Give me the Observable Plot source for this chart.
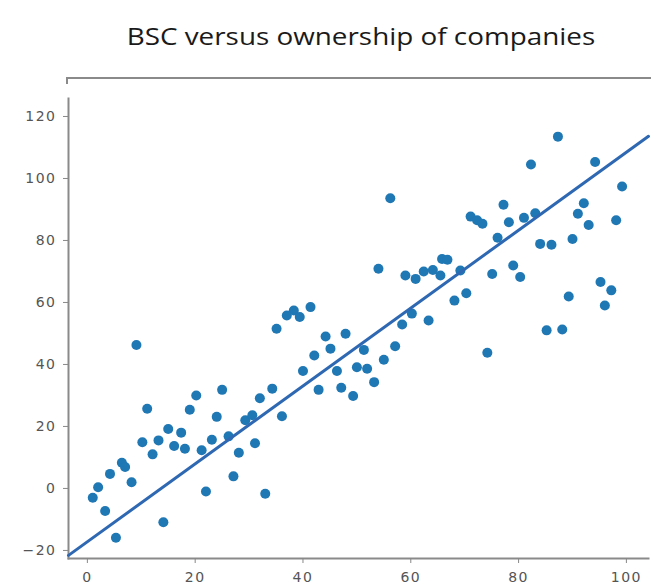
<!DOCTYPE html>
<html>
<head>
<meta charset="utf-8">
<script src="https://cdn.jsdelivr.net/npm/d3@7"></script>
<script src="https://cdn.jsdelivr.net/npm/@observablehq/plot@0.6"></script>
<style>
  html, body { margin: 0; padding: 0; background: #fff; }
  #wrap { position: relative; width: 651px; height: 586px; overflow: hidden; background: #fff; }
  #title { position: absolute; left: 0; top: 18px; width: 651px; height: 40px;
    font-family: "Open Sans", sans-serif; font-size: 24px; color: #1a1a1a;
    text-align: center; line-height: 36px; }
  #title span { display: inline-block; transform: scaleX(1.16); margin-left: 70px; }
  #topframe { position: absolute; left: 66px; top: 77px; width: 590px; height: 7px; z-index: 5;
    border-top: 2px solid #8a8a8a; border-left: 2px solid #8a8a8a; box-sizing: border-box; }
  #chart { position: absolute; left: 0; top: 60px; }
  #chart svg text { letter-spacing: 1.5px; }
</style>
</head>
<body>
<div id="wrap">
  <div id="title"><span>BSC versus ownership of companies</span></div>
  <div id="chart"></div>
  <div id="topframe"></div>
</div>
<script>
const ownership = [
  9.1, 11.1, 20.2, 25.0, 19.0, 24.0, 32.0, 10.2, 13.2, 15.0, 17.4, 16.1, 18.1, 12.1, 21.2, 23.1, 26.2,
  29.3, 30.6, 28.1, 31.1, 27.1, 22.0, 33.0, 6.4, 7.0, 4.2, 8.2, 2.0, 1.0, 3.3, 14.1, 5.3,
  34.3, 36.1, 35.1, 38.3, 37.0, 39.4, 41.4, 44.2, 47.9, 45.1, 42.1, 51.3, 40.0, 46.3, 50.0, 51.9,
  53.2, 55.0, 57.1, 58.4, 60.2, 42.9, 47.1, 49.3, 54.0, 56.2,
  59.0, 60.9, 62.4, 64.1, 65.5, 65.8, 66.8, 69.2, 68.1, 70.3, 63.3,
  87.3, 82.3, 94.2, 99.2, 77.2, 71.1, 72.3, 73.3, 78.2, 81.0, 83.1, 92.1, 91.0, 93.0, 98.1,
  76.1, 84.0, 86.1, 90.0, 79.0, 75.1, 80.3, 95.2, 97.2, 96.0, 89.3, 85.2, 88.1, 74.2
];
const bsc = [
  46.3, 25.7, 30.0, 31.8, 25.4, 23.1, 29.1, 14.9, 15.5, 19.2, 18.0, 13.7, 12.8, 11.0, 12.3, 15.7, 16.8,
  22.0, 23.6, 11.5, 14.6, 3.9, -1.0, -1.7, 8.3, 6.9, 4.7, 2.0, 0.4, -3.0, -7.3, -10.9, -15.9,
  32.2, 23.3, 51.5, 57.4, 55.8, 55.3, 58.5, 49.0, 49.9, 45.1, 42.9, 44.7, 37.9, 37.9, 39.1, 38.6,
  34.3, 41.5, 45.9, 52.9, 56.4, 31.8, 32.5, 29.8, 70.9, 93.6,
  68.7, 67.6, 70.0, 70.5, 68.7, 74.0, 73.8, 70.3, 60.6, 63.0, 54.2,
  113.5, 104.5, 105.3, 97.4, 91.5, 87.7, 86.5, 85.4, 85.9, 87.3, 88.8, 92.0, 88.6, 85.0, 86.5,
  80.9, 78.9, 78.6, 80.5, 71.9, 69.2, 68.2, 66.6, 63.9, 59.0, 61.9, 51.0, 51.3, 43.8
];
const fitX = [-3.5, 104.1];
const fitY = [-21.6, 113.6];
const xTicks = [0, 20, 40, 60, 80, 100];
const yTicks = [-20, 0, 20, 40, 60, 80, 100, 120];

const points = ownership.map((x, i) => ({x, y: bsc[i]}));
const fit = fitX.map((x, i) => ({x, y: fitY[i]}));

const chart = Plot.plot({
  width: 651,
  height: 526,
  marginLeft: 68,
  marginRight: 3,
  marginTop: 38,
  marginBottom: 28,
  style: {fontFamily: "DejaVu Sans, sans-serif", fontSize: "14px", color: "#555", background: "transparent"},
  x: {domain: [-3.5, 104.1]},
  y: {domain: [-22.6, 125.8]},
  marks: [
    Plot.frame({anchor: "left", stroke: "#8a8a8a", strokeWidth: 2}),
    Plot.frame({anchor: "bottom", stroke: "#8a8a8a", strokeWidth: 2}),
    Plot.axisX({ticks: xTicks, tickSize: 5, tickPadding: 9, stroke: "#888", fill: "#555", label: null, fontSize: 14}),
    Plot.axisY({ticks: yTicks, tickSize: 5, tickPadding: 7, stroke: "#888", fill: "#555", label: null, fontSize: 14}),
    Plot.dot(points, {x: "x", y: "y", r: 5, fill: "#1f77b4", stroke: "none"}),
    Plot.line(fit, {x: "x", y: "y", stroke: "#2f68b2", strokeWidth: 3})
  ]
});
document.getElementById("chart").appendChild(chart);
</script>
</body>
</html>
